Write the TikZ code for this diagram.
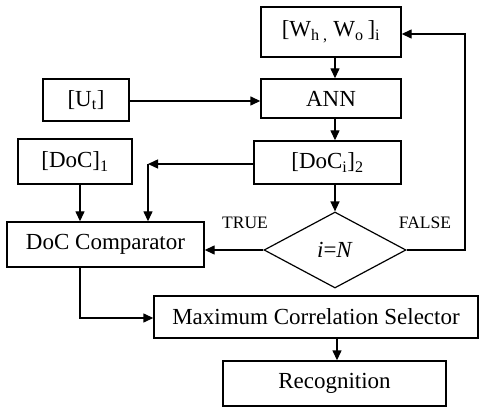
\documentclass[tikz,border=0pt]{standalone}
\usepackage{fontspec}
\setmainfont{Liberation Serif}
\usetikzlibrary{shapes.geometric,arrows.meta}
\tikzset{
  x=1pt,y=-1pt,
  box/.style={draw,line width=1.4pt,inner sep=0pt,font=\fontsize{23}{27}\selectfont},
  dia/.style={draw,line width=1.2pt,shape=diamond,inner sep=0pt,minimum width=142pt,minimum height=76pt,shape aspect=1.87,font=\fontsize{23}{27}\selectfont},
  lbl/.style={font=\fontsize{17.5}{20}\selectfont,inner sep=0pt},
  conn/.style={line width=1.4pt},
  arr/.style={conn,-{Triangle[length=10pt,width=9pt]}}
}
\begin{document}
\begin{tikzpicture}
\useasboundingbox (0,0) rectangle (485,414);
\node[box,minimum width=140pt,minimum height=50pt] (w) at (331,32) {[W\textsubscript{h ,}\ W\textsubscript{o}\,]\textsubscript{i}};
\node[box,minimum width=140pt,minimum height=39pt] (ann) at (331,98.5) {ANN};
\node[box,minimum width=86pt,minimum height=42pt] (u) at (86,100) {[U\textsubscript{t}]};
\node[box,minimum width=114pt,minimum height=45pt] (d1) at (75,161.5) {[DoC]\textsubscript{1}};
\node[box,minimum width=147pt,minimum height=43pt] (d2) at (327.5,162.5) {[DoC\textsubscript{i}]\textsubscript{2}};
\node[dia] (q) at (335,250) {\textit{i}=\textit{N}};
\node[box,minimum width=197pt,minimum height=45pt] (cmp) at (105.5,244.5) {DoC Comparator};
\node[box,minimum width=324pt,minimum height=42pt] (mcs) at (316,317) {Maximum Correlation Selector};
\node[box,minimum width=223pt,minimum height=45pt] (rec) at (334.5,383.5) {Recognition};
\node[lbl] (t) at (245,223) {TRUE};
\node[lbl] (f) at (425,223) {FALSE};
\coordinate (c1) at (148,164);
\coordinate (c2) at (465,250);
\coordinate (c3) at (465,34);
\coordinate (c4) at (80,318);
\draw[arr] (w.south -| q.north) -- (ann.north -| q.north);
\draw[arr] (ann.south -| q.north) -- (d2.north -| q.north);
\draw[arr] (d2.south -| q.north) -- (q.north);
\draw[arr] (u.east |- 0,101) -- (ann.west |- 0,101);
\draw[arr] (d2.west |- c1) -- (c1);
\draw[arr] (c1) -- (c1 |- cmp.north);
\draw[arr] (d1.south -| c4) -- (cmp.north -| c4);
\draw[arr] (q.west) -- (cmp.east |- q.west);
\draw[arr] (q.east) -- (c2) -- (c3) -- (w.east |- c3);
\draw[arr] (cmp.south -| c4) -- (c4) -- (mcs.west |- c4);
\draw[arr] (mcs.south -| 337,0) -- (rec.north -| 337,0);
\end{tikzpicture}
\end{document}
